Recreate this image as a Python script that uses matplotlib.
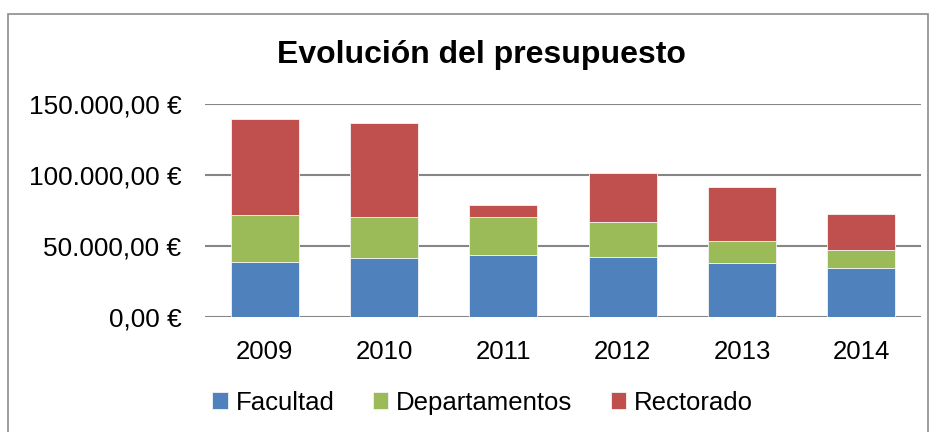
import numpy as np
import matplotlib.pyplot as plt
from matplotlib.patches import Rectangle
from matplotlib.ticker import FuncFormatter

years = ['2009', '2010', '2011', '2012', '2013', '2014']
facultad = [38800, 41700, 43600, 42400, 38100, 34600]
departamentos = [32800, 28500, 27000, 24200, 15100, 12500]
rectorado = [68200, 66800, 8300, 34900, 38200, 25200]

colors = ['#4F81BD', '#9BBB59', '#C0504D']
labels = ['Facultad', 'Departamentos', 'Rectorado']

plt.rcParams['font.family'] = ['Liberation Sans', 'DejaVu Sans']


def euro(v, pos):
    s = f'{v:,.2f}'
    s = s.replace(',', 'X').replace('.', ',').replace('X', '.')
    return s + ' €'


def main():
    fig = plt.figure(figsize=(9.37, 4.32), dpi=100)
    ax = fig.add_axes([205 / 937, 0.2669, 716 / 937, 0.4917])

    x = np.arange(len(years))
    bottom = np.zeros(len(years))
    for vals, c, lab in zip([facultad, departamentos, rectorado], colors, labels):
        ax.bar(x, vals, width=0.57, bottom=bottom, color=c, label=lab,
               edgecolor='#f4f4f4', linewidth=0.6, zorder=3)
        bottom += np.array(vals)

    ax.set_xlim(-0.5, len(years) - 0.5)
    ax.set_ylim(0, 150000)
    ax.set_yticks([0, 50000, 100000, 150000])
    ax.yaxis.set_major_formatter(FuncFormatter(euro))
    ax.set_xticks(x)
    ax.set_xticklabels(years)
    ax.tick_params(axis='both', length=0, labelsize=18.5)
    ax.tick_params(axis='y', labelsize=18.9)
    ax.tick_params(axis='x', pad=17)
    ax.tick_params(axis='y', pad=17)
    ax.grid(axis='y', color='#868686', linewidth=1.5, zorder=0)
    for sp in ax.spines.values():
        sp.set_visible(False)

    fig.text(0.514, 1 - 63 / 432, 'Evolución del presupuesto', ha='center', va='baseline',
             fontsize=23, fontweight='bold')

    fig.legend(loc='center', bbox_to_anchor=(0.515, 0.068), ncol=3, frameon=False,
               fontsize=18.5, handlelength=0.6, handleheight=0.6, handletextpad=0.3,
               columnspacing=1.5)

    fig.patches.append(Rectangle((8 / 937, -0.05), 920 / 937, 1 - 14 / 432 + 0.05,
                                 transform=fig.transFigure, fill=False,
                                 edgecolor='#8c8c8c', linewidth=1.2))

    fig.savefig('out.png', dpi=100)


if __name__ == '__main__':
    main()
